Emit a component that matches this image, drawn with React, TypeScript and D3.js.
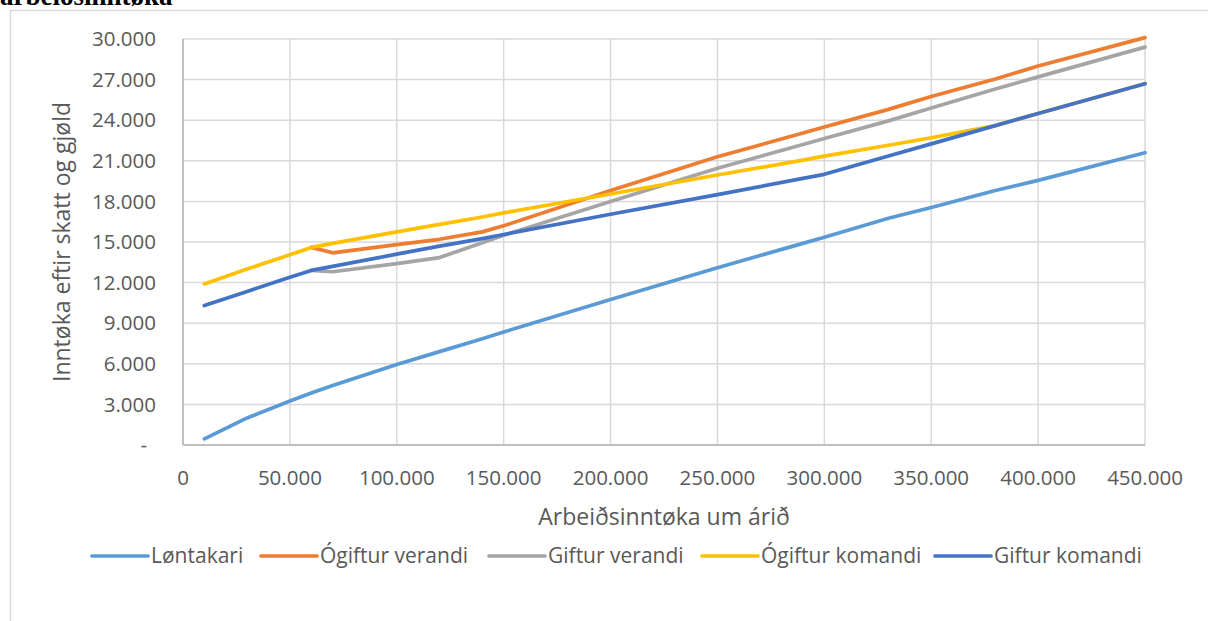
import React from 'react';
import * as d3 from 'd3';

// income per year (x) and disposable income for each group (y)
const incomes = [10000, 30000, 50000, 60000, 70000, 100000, 120000, 140000, 150000, 200000, 250000, 290000, 300000, 330000, 350000, 380000, 400000, 450000];

const lontakari = [450, 2000, 3250, 3850, 4400, 5950, 6900, 7850, 8350, 10750, 13100, 14900, 15350, 16750, 17550, 18800, 19550, 21600];
const ogifturVerandi = [null, null, null, 14600, 14200, 14800, 15200, 15750, 16200, 18800, 21300, 23050, 23500, 24800, 25750, 27050, 28000, 30100];
const gifturVerandi = [null, null, null, 12900, 12800, 13400, 13850, 14950, 15500, 18000, 20450, 22200, 22650, 23950, 24900, 26300, 27200, 29400];
const ogifturKomandi = [11900, 13000, 14050, 14600, 14900, 15750, 16300, 16850, 17150, 18550, 19950, 21050, 21350, 22150, 22700, 23600, 24500, 26700];
const gifturKomandi = [10300, 11350, 12400, 12900, 13200, 14100, 14700, 15250, 15550, 17050, 18500, 19700, 20000, 21350, 22250, 23600, 24500, 26700];

const seriesNames = ['Løntakari', 'Ógiftur verandi', 'Giftur verandi', 'Ógiftur komandi', 'Giftur komandi'];
const seriesColors = ['#5B9BD5', '#ED7D31', '#A5A5A5', '#FFC000', '#4472C4'];
const seriesValues = [lontakari, ogifturVerandi, gifturVerandi, ogifturKomandi, gifturKomandi];

const yTicks = [0, 3000, 6000, 9000, 12000, 15000, 18000, 21000, 24000, 27000, 30000];
const xTicks = [0, 50000, 100000, 150000, 200000, 250000, 300000, 350000, 400000, 450000];
const legendX = [92, 261, 489, 702, 935];

const font = "'Open Sans', 'Noto Sans', sans-serif";
const fmt = (v: number) => (v === 0 ? '0' : d3.format(',')(v).replace(/,/g, '.'));

export default function App() {
  const width = 1208, height = 621;
  const margin = { left: 183, right: 63, top: 39, bottom: 176 };

  const x = d3.scaleLinear().domain([0, 450000]).range([margin.left, width - margin.right]);
  const y = d3.scaleLinear().domain([0, 30000]).range([height - margin.bottom, margin.top]);

  const line = d3.line<number | null>()
    .defined((d) => d !== null)
    .x((d, i) => x(incomes[i]))
    .y((d) => y(d as number));

  const textStyle = { fill: '#595959', fontFamily: font };

  return (
    <svg width={width} height={height} style={{ position: 'absolute', left: 0, top: 0, background: '#fff' }}>
      <text x={0} y={5} fontFamily="'Liberation Serif', serif" fontWeight="bold" fontSize={27} fill="#000">arbeiðsinntøka</text>
      <rect x={10.5} y={10.5} width={1300} height={700} fill="none" stroke="#d9d9d9" strokeWidth={1.5} />

      {/* gridlines */}
      {yTicks.map((t) => (
        <line key={'gy' + t} x1={x(0)} x2={x(450000)} y1={y(t)} y2={y(t)} stroke="#d9d9d9" strokeWidth={1.5} />
      ))}
      {xTicks.map((t) => (
        <line key={'gx' + t} x1={x(t)} x2={x(t)} y1={y(0)} y2={y(30000)} stroke="#d9d9d9" strokeWidth={1.5} />
      ))}
      <line x1={x(0)} x2={x(0)} y1={y(0)} y2={y(30000)} stroke="#bfbfbf" strokeWidth={2} />
      <line x1={x(0)} x2={x(450000)} y1={y(0)} y2={y(0)} stroke="#bfbfbf" strokeWidth={2} />

      {/* y tick labels */}
      {yTicks.map((t) => (
        <text key={'ly' + t} x={t === 0 ? 147 : 156} y={y(t)} dy="0.35em" textAnchor="end" fontSize={20.5} style={textStyle}>
          {t === 0 ? '-' : fmt(t)}
        </text>
      ))}
      {/* x tick labels */}
      {xTicks.map((t) => (
        <text key={'lx' + t} x={x(t)} y={478} dy="0.35em" textAnchor="middle" fontSize={20.5} style={textStyle}>
          {fmt(t)}
        </text>
      ))}

      <text x={664} y={517} dy="0.35em" textAnchor="middle" fontSize={23} style={textStyle}>Arbeiðsinntøka um árið</text>
      <text transform={`translate(62,242) rotate(-90)`} dy="0.35em" textAnchor="middle" fontSize={23} style={textStyle}>
        Inntøka eftir skatt og gjøld
      </text>

      {/* series */}
      {seriesValues.map((vals, i) => (
        <path key={'s' + i} d={line(vals) || ''} fill="none" stroke={seriesColors[i]} strokeWidth={3.7} strokeLinejoin="round" strokeLinecap="round" />
      ))}

      {/* legend */}
      {seriesNames.map((name, i) => (
        <g key={'lg' + i} transform={`translate(${legendX[i]},556)`}>
          <line x1={0} x2={56} y1={0} y2={0} stroke={seriesColors[i]} strokeWidth={3.7} strokeLinecap="round" />
          <text x={59} y={0} dy="0.35em" fontSize={21} style={textStyle}>{name}</text>
        </g>
      ))}
    </svg>
  );
}
